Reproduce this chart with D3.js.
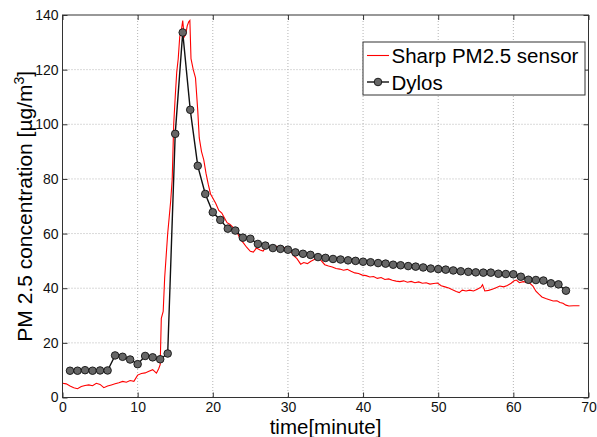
<!DOCTYPE html>
<html>
<head>
<meta charset="utf-8">
<script src="https://cdn.jsdelivr.net/npm/d3@7"></script>
<style>
  html, body { margin: 0; padding: 0; background: #fff; }
  svg { display: block; font-family: "Liberation Sans", Arial, sans-serif; }
</style>
</head>
<body>
<svg id="chart" width="597" height="437"></svg>
<script>
// ---- data ----
const xTicks = [0, 10, 20, 30, 40, 50, 60, 70];
const yTicks = [0, 20, 40, 60, 80, 100, 120, 140];
const seriesNames = ["Sharp PM2.5 sensor", "Dylos"];

// Sharp PM2.5 sensor (time in minutes, concentration)
const sharpTime = [
  0, 0.5, 1.0, 1.5, 2.0, 2.5, 3.0, 3.5, 4.0, 4.5, 5.0, 5.5, 6.0, 6.5, 7.0, 7.5, 8.0, 8.5, 9.0, 9.5,
  10.0, 10.5, 11.0, 11.5, 12.0, 12.5, 12.8, 13.0, 13.15, 13.4, 13.6, 13.8, 14.0, 14.2, 14.4, 14.6, 14.8,
  15.0, 15.2, 15.4, 15.6, 15.8, 16.0, 16.2, 16.4, 16.6, 16.8, 16.95, 17.1, 17.4, 17.7, 18.0, 18.2, 18.5,
  18.8, 19.1, 19.4, 19.7, 20.0, 20.4, 20.8, 21.2, 21.5, 21.9, 22.3, 22.8, 23.3, 23.7, 24.1, 24.5, 25.0,
  25.4, 25.8, 26.3, 26.7, 27.1, 27.6, 28.1, 28.6, 29.1, 29.6, 30.0, 30.4, 30.8, 31.2, 31.7, 32.1, 32.6,
  33.0, 33.5, 34.0, 34.4, 34.9, 35.4, 35.9, 36.4, 36.9, 37.4, 37.9, 38.4, 38.9, 39.4, 39.9, 40.4, 40.9,
  41.4, 41.9, 42.4, 42.9, 43.4, 43.9, 44.4, 44.9, 45.4, 45.9, 46.4, 46.9, 47.4, 47.9, 48.4, 48.9, 49.4,
  49.9, 50.4, 50.9, 51.4, 51.9, 52.4, 52.8, 53.2, 53.7, 54.2, 54.7, 55.2, 55.7, 55.9, 56.2, 56.7, 57.2,
  57.7, 58.2, 58.7, 59.2, 59.7, 60.1, 60.4, 60.8, 61.3, 61.8, 62.2, 62.6, 63.0, 63.4, 63.8, 64.3, 64.8,
  65.3, 65.8, 66.2, 66.6, 67.0, 67.4, 68.0, 68.8
];
const sharpValues = [
  5.2, 5.0, 4.2, 3.6, 3.2, 4.0, 4.4, 4.6, 4.3, 5.2, 4.8, 3.6, 4.2, 4.6, 5.0, 5.4, 5.9, 5.6, 6.2, 5.9,
  8.2, 8.8, 9.0, 9.6, 10.2, 8.9, 10.5, 12, 29, 31.5, 44, 52, 60, 66, 72, 80, 100,
  110, 119, 124, 132, 134, 138, 132, 133, 136, 137.5, 138, 124, 120, 117, 105, 95, 90,
  87, 82, 78, 74.5, 73, 71, 68.5, 67.5, 66, 64, 63.3, 62, 60, 57.8, 56.5, 55, 53.5,
  53.2, 54.7, 54, 53.6, 55.3, 54.8, 55.5, 55.3, 54.6, 54.9, 54.3, 53.5, 51.8, 50.8, 48.8, 49.4, 49.0,
  49.8, 50.5, 51.2, 50.2, 48.6, 48.1, 47.8, 47.2, 47.0, 46.6, 46.9, 46.2, 45.6, 45.4, 44.8, 44.6, 44.1,
  44.3, 43.6, 43.9, 43.2, 43.4, 42.9, 42.6, 42.4, 42.7, 42.2, 42.5, 42.0, 42.3, 41.8, 42.0, 41.5, 41.7,
  41.9, 40.9, 40.5, 40.1, 39.4, 38.8, 38.4, 39.3, 39.0, 39.3, 39.0, 39.6, 40.4, 41.3, 39.0, 39.2, 39.6,
  40.2, 40.8, 40.5, 41.0, 41.8, 42.7, 43.0, 42.0, 42.4, 42.2, 41.8, 40.8, 38.9, 37.8, 36.8, 36.2, 35.8,
  35.3, 35.4, 34.8, 34.5, 33.8, 33.5, 33.6, 33.6
];

// Dylos (one reading per minute, t = 1..67)
const dylosTime = d3.range(1, 68);
const dylosValues = [
  9.8, 9.8, 10.0, 9.8, 9.9, 9.9, 15.4, 14.9, 13.9, 12.2, 15.2, 14.7, 14.0, 16.1, 96.5, 133.6, 105.3,
  84.8, 74.5, 67.8, 65.0, 61.8, 61.1, 58.5, 58.1, 56.2, 55.6, 54.7, 54.4, 54.1, 53.1, 52.6, 52.2, 51.4,
  51.1, 50.7, 50.5, 50.2, 50.0, 49.7, 49.5, 49.2, 49.0, 48.6, 48.4, 48.1, 47.9, 47.6, 47.2, 47.0, 46.8,
  46.5, 46.2, 46.0, 45.8, 45.7, 45.7, 45.3, 45.2, 45.1, 44.2, 43.1, 43.0, 42.8, 41.8, 41.4, 39.1
];

// ---- layout ----
const svg = d3.select("#chart");
const L = 62.5, R = 588.5, T = 15, B = 397.5;
const x = d3.scaleLinear().domain([0, 70]).range([L, R]);
const y = d3.scaleLinear().domain([0, 140]).range([B, T]);

// gridlines
const grid = svg.append("g");
grid.selectAll("line.gx").data(xTicks.slice(1, -1)).join("line")
  .attr("x1", d => x(d)).attr("x2", d => x(d)).attr("y1", T).attr("y2", B)
  .attr("stroke", "#b4b4b4").attr("stroke-width", 1).attr("stroke-dasharray", "1,2");
grid.selectAll("line.gy").data(yTicks.slice(1, -1)).join("line")
  .attr("x1", L).attr("x2", R).attr("y1", d => y(d)).attr("y2", d => y(d))
  .attr("stroke", "#b4b4b4").attr("stroke-width", 1).attr("stroke-dasharray", "1,2");

// data lines
const sharpData = sharpTime.map((t, i) => [t, sharpValues[i]]);
const dylosData = dylosTime.map((t, i) => [t, dylosValues[i]]);
const line = d3.line().x(d => x(d[0])).y(d => y(d[1]));

svg.append("path").datum(sharpData).attr("d", line)
  .attr("fill", "none").attr("stroke", "#ff0000").attr("stroke-width", 1.1);
svg.append("path").datum(dylosData).attr("d", line)
  .attr("fill", "none").attr("stroke", "#111").attr("stroke-width", 1.4);
svg.append("g").selectAll("circle").data(dylosData).join("circle")
  .attr("cx", d => x(d[0])).attr("cy", d => y(d[1])).attr("r", 3.8)
  .attr("fill", "#666").attr("stroke", "#111").attr("stroke-width", 0.9);

// axes (inward ticks, MATLAB style)
const fontSize = 14;
const axB = svg.append("g").attr("transform", `translate(0,${B})`)
  .call(d3.axisBottom(x).tickValues(xTicks).tickFormat(d3.format("d")).tickSize(-5).tickPadding(5));
const axT = svg.append("g").attr("transform", `translate(0,${T})`)
  .call(d3.axisTop(x).tickValues(xTicks).tickFormat("").tickSize(-5));
const axL = svg.append("g").attr("transform", `translate(${L},0)`)
  .call(d3.axisLeft(y).tickValues(yTicks).tickFormat(d3.format("d")).tickSize(-5).tickPadding(4));
const axR = svg.append("g").attr("transform", `translate(${R},0)`)
  .call(d3.axisRight(y).tickValues(yTicks).tickFormat("").tickSize(-5));
[axB, axT, axL, axR].forEach(g => {
  g.select(".domain").remove();
  g.selectAll(".tick line").attr("stroke", "#333");
  g.selectAll(".tick text").attr("fill", "#111").attr("font-size", fontSize)
    .attr("font-family", '"Liberation Sans", Arial, sans-serif');
});
axB.selectAll(".tick text").attr("dy", "0.71em");

// frame
svg.append("rect").attr("x", L).attr("y", T).attr("width", R - L).attr("height", B - T)
  .attr("fill", "none").attr("stroke", "#333").attr("stroke-width", 1);

// axis titles
svg.append("text").attr("x", (L + R) / 2).attr("y", 433.5).attr("text-anchor", "middle")
  .attr("font-size", 20.5).attr("fill", "#000").text("time[minute]");
const yl = svg.append("text")
  .attr("transform", `translate(32,${(T + B) / 2}) rotate(-90)`)
  .attr("text-anchor", "middle").attr("font-size", 21).attr("fill", "#000");
yl.append("tspan").text("PM 2.5 concentration [µg/m");
yl.append("tspan").attr("font-size", 14).attr("dy", -8).text("3");
yl.append("tspan").attr("dy", 8).text("]");

// legend
const lg = svg.append("g");
lg.append("rect").attr("x", 363).attr("y", 42).attr("width", 222).attr("height", 53)
  .attr("fill", "#fff").attr("stroke", "#333").attr("stroke-width", 1);
const rows = [55.5, 82];
lg.append("line").attr("x1", 367).attr("x2", 389).attr("y1", rows[0]).attr("y2", rows[0])
  .attr("stroke", "#ff0000").attr("stroke-width", 1.1);
lg.append("line").attr("x1", 367).attr("x2", 389).attr("y1", rows[1]).attr("y2", rows[1])
  .attr("stroke", "#111").attr("stroke-width", 1.4);
lg.append("circle").attr("cx", 378).attr("cy", rows[1]).attr("r", 3.8)
  .attr("fill", "#666").attr("stroke", "#111").attr("stroke-width", 0.9);
lg.selectAll("text").data(seriesNames).join("text")
  .attr("x", 391.5).attr("y", (d, i) => rows[i] + 7.5)
  .attr("font-size", 20.5).attr("fill", "#000").text(d => d);
</script>
</body>
</html>
